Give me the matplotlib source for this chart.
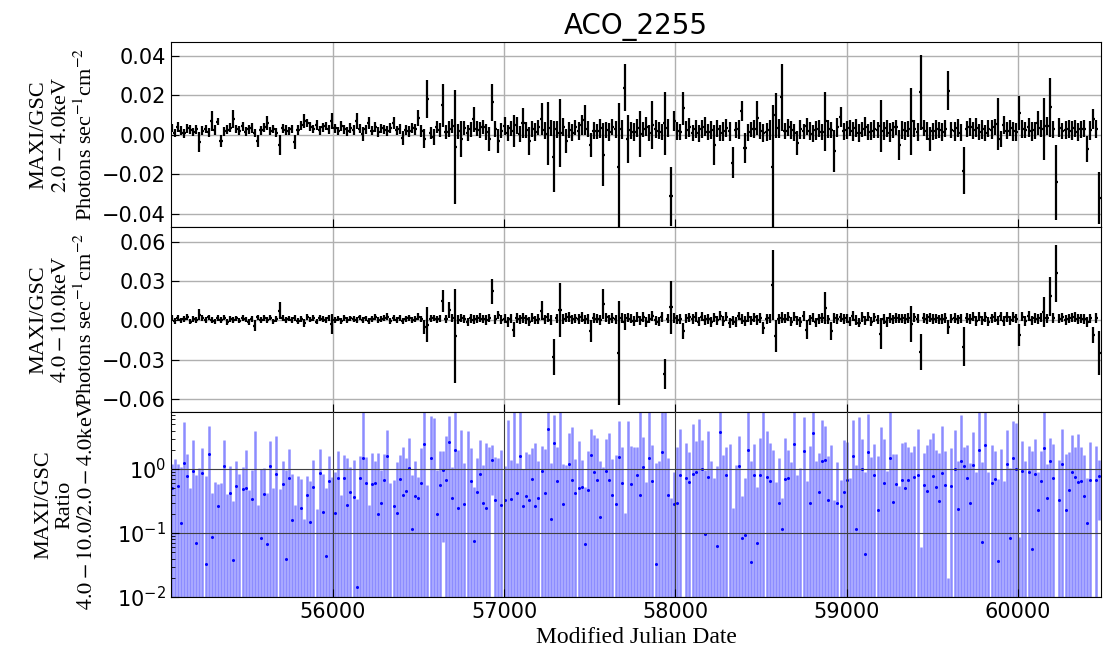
import matplotlib

matplotlib.use("Agg")

import matplotlib.pyplot as plt
import numpy as np
from matplotlib.ticker import LogLocator, MultipleLocator

# MAXI/GSC light curve of ACO_2255, 18-day bins, fluxes in 1e-3 photons/s/cm2
MJD_START = 55058.0
BIN_DAYS = 18.0

# 2.0-4.0 keV
flux_lo = [
    3.5, 1.2, 4.0, 2.1, 0.8, 3.3, 2.6, 1.5, 2.9, -3.4,
    2.2, 3.0, 1.4, 7.0, 2.5, 6.8, -3.0, 1.8, 2.7, 3.6,
    8.0, 3.1, 2.2, 4.3, 1.6, 2.8, 3.5, 1.1, -3.0, 2.4,
    3.9, 6.0, 2.0, 2.9, 1.2, -5.0, 3.3, 2.5, 1.9, 3.1,
    -3.5, 2.6, 4.8, 7.0, 6.0, 4.1, 3.0, 5.2, 2.4, 3.8,
    4.5, 2.9, 7.0, 3.4, 2.1, 4.6, 3.0, 1.8, 3.7, 2.5,
    7.0, 3.2, 0.4, 2.8, 6.0, 2.2, 3.9, 1.5, 3.4, 2.7,
    1.9, 3.6, 6.0, 2.4, 3.0, -1.5, 2.6, 1.8, 3.5, 2.9,
    8.5, 2.0, -2.0, 18.0, 1.0, -1.0, 4.0, 2.5, 15.0, 1.5,
    3.0, 4.5, -6.0, 2.0, -2.0, 3.5, 1.0, 2.8, 8.0, 3.2,
    2.4, 4.0, 1.6, -2.0, 16.5, 3.0, -3.0, 2.2, 4.5, 1.0,
    3.5, 2.0, 4.8, 0.5, 6.0, 2.6, -3.0, 3.2, 1.5, 4.0,
    8.0, 2.4, 0.6, 3.6, -11.0, 2.8, 1.0, 4.2, -3.0, 2.5,
    1.2, 3.8, 2.0, 5.0, 7.5, 3.0, -5.0, 2.2, 1.8, 3.4,
    -10.0, 2.6, 1.5, 4.0, 2.8, -16.0, 3.0, 24.0, -2.0, 2.4,
    1.6, 3.5, 0.5, 2.8, 4.2, 1.0, 5.0, 3.0, 2.2, 1.4,
    6.0, 3.6, -31.0, 7.0, 2.0, 1.5, 13.5, 2.5, 3.8, 1.2,
    2.9, 0.8, 3.0, 4.1, 1.6, 2.4, -5.0, 3.2, 1.0, 2.0,
    3.5, 1.8, -14.0, 2.6, 3.0, 12.0, -6.5, 1.4, 2.8, 3.0,
    8.5, 2.2, 1.0, 1.6, 2.5, -16.0, 10.0, 3.4, 19.0, 2.0,
    3.8, 2.5, 1.2, -4.0, 3.0, 1.8, 4.4, 2.0, 0.6, 2.4,
    3.2, 1.5, 7.0, 3.0, 2.6, -8.0, 4.0, 9.0, 1.8, 2.4,
    3.6, 2.0, 3.5, 1.0, 2.8, 4.2, 1.6, 2.2, 3.0, 2.6,
    4.6, 2.0, 3.4, 1.2, 2.6, 3.8, -5.0, 2.4, 2.0, 3.0,
    7.0, 3.2, 1.5, 21.6, 3.6, 2.2, -2.0, 1.8, 3.0, 2.5,
    1.4, 3.2, 22.5, 2.6, 2.0, 3.4, 1.2, -18.0, 3.0, 4.0,
    2.4, 3.6, 1.5, 2.8, 1.0, 3.2, 2.6, 4.0, 5.5, -2.0,
    5.0, 2.2, 3.6, 2.0, 1.4, 11.0, 3.0, 2.6, 3.8, 1.8,
    2.4, 6.0, 3.4, 3.0, 4.6, 14.0, 2.8, -24.0, 3.6, 2.0,
    2.6, 3.0, 2.2, 3.4, 1.6, 2.8, 3.2, -7.0, 2.4, 8.0,
    3.0, -32.0,
]
err_lo = [
    2.2, 2.0, 2.4, 2.2, 2.1, 2.5, 2.3, 2.0, 2.2, 5.0,
    2.3, 2.1, 2.2, 5.0, 2.4, 1.8, 3.0, 2.2, 2.1, 2.3,
    4.4, 2.2, 2.4, 2.1, 2.3, 2.2, 2.5, 2.0, 3.0, 2.2,
    2.3, 3.7, 2.2, 2.1, 2.4, 5.0, 2.2, 2.3, 2.0, 2.2,
    3.5, 2.4, 2.2, 3.7, 2.0, 2.3, 2.1, 2.5, 2.2, 2.4,
    2.2, 2.3, 4.0, 2.4, 2.1, 2.6, 2.3, 2.2, 2.5, 2.4,
    4.0, 2.3, 3.5, 2.4, 3.0, 2.2, 2.5, 2.3, 2.4, 2.2,
    2.4, 2.6, 3.0, 2.3, 2.5, 3.5, 2.4, 2.6, 2.7, 2.8,
    4.2, 3.0, 4.8, 9.6, 3.0, 4.0, 3.2, 3.5, 11.0, 3.6,
    4.0, 3.4, 29.0, 3.8, 9.0, 3.5, 4.0, 3.6, 6.4, 3.8,
    4.0, 3.6, 4.2, 6.0, 9.5, 4.0, 6.0, 3.8, 4.5, 4.2,
    3.8, 8.0, 4.4, 4.0, 7.7, 4.2, 7.0, 4.0, 4.6, 3.8,
    8.0, 4.4, 16.0, 4.0, 18.0, 4.2, 17.0, 4.5, 6.0, 4.0,
    4.4, 4.0, 4.6, 5.0, 7.5, 4.2, 6.0, 4.4, 4.0, 4.8,
    16.0, 4.2, 4.6, 4.0, 4.4, 32.0, 4.8, 12.0, 12.0, 4.2,
    4.6, 4.4, 11.5, 4.0, 4.8, 4.2, 12.0, 4.6, 4.4, 4.0,
    16.0, 4.4, 15.0, 5.0, 4.6, 4.2, 8.5, 4.4, 4.8, 4.0,
    4.6, 4.2, 4.4, 4.8, 4.0, 4.6, 10.0, 4.4, 4.2, 4.8,
    4.4, 4.6, 8.0, 4.2, 4.8, 5.0, 7.5, 4.4, 4.0, 4.6,
    8.5, 4.2, 4.6, 4.4, 5.0, 31.0, 11.5, 4.8, 17.0, 4.2,
    4.4, 4.6, 4.2, 6.0, 4.8, 4.0, 4.4, 4.6, 4.2, 4.8,
    4.4, 4.2, 15.0, 4.6, 4.0, 10.5, 4.8, 5.0, 4.4, 4.6,
    4.2, 4.8, 4.4, 4.6, 4.0, 4.8, 4.2, 4.6, 4.4, 4.2,
    13.0, 4.6, 4.4, 4.8, 4.2, 4.0, 7.5, 4.6, 4.4, 4.2,
    17.0, 4.4, 4.8, 19.0, 4.2, 4.6, 6.0, 4.4, 4.8, 4.2,
    4.6, 4.4, 9.7, 4.2, 4.8, 4.6, 4.4, 12.0, 4.2, 4.6,
    4.4, 4.8, 4.2, 4.6, 4.0, 4.4, 4.8, 4.2, 13.0, 4.0,
    4.6, 4.4, 4.2, 4.8, 4.6, 8.5, 4.4, 4.2, 4.6, 4.8,
    4.4, 6.0, 4.2, 15.5, 4.6, 15.0, 4.4, 19.0, 4.8, 4.2,
    4.6, 4.4, 4.8, 4.2, 4.6, 4.4, 4.2, 6.5, 4.8, 5.0,
    4.6, 13.0,
]

# 4.0-10.0 keV
flux_hi = [
    1.8, -0.4, 2.2, 0.3, 1.0, 2.6, -0.8, 1.4, 0.2, 4.5,
    1.9, 0.1, 2.4, 0.6, -0.5, 1.8, 0.4, 2.0, -1.2, 1.5,
    0.3, 1.7, -0.2, 2.1, 0.8, -1.0, 1.2, -4.0, 2.3, 0.2,
    1.6, 0.4, 2.2, -0.6, 1.0, 7.5, 1.9, 0.1, 1.4, 0.5,
    2.0, -0.3, 1.2, -2.0, 2.4, 0.6, 1.6, -0.9, 2.1, 0.8,
    0.2, 1.9, -2.5, 0.7, 1.5, -0.4, 2.2, 0.5, 1.6, 0.9,
    0.1, 2.3, 0.6, 1.7, -0.7, 1.3, 2.4, 0.3, 1.0, 1.8,
    3.0, -0.2, 1.6, 0.5, 2.1, -0.6, 1.2, 1.9, 0.4, 1.1,
    3.0, 1.2, -5.0, -3.3, 1.5, 2.0, 0.8, 1.4, 14.7, 1.0,
    8.0, 1.6, -12.0, 0.5, 2.2, 1.0, -1.0, 1.8, 0.6, 1.4,
    2.0, 1.2, 0.4, 1.8, 22.5, 1.0, 4.0, 0.6, 1.5, -1.5,
    1.2, -7.0, 2.0, 0.8, 1.6, 1.0, -1.0, 2.2, 0.4, 1.4,
    7.5, 1.0, 2.5, 0.6, -28.0, 1.8, 8.0, 1.2, 2.4, 3.0,
    0.8, 1.6, 1.0, 2.6, 0.5, 1.4, -8.3, 2.0, 1.2, 0.6,
    12.8, 2.4, 1.0, 1.6, 0.8, -25.0, 1.8, -1.0, 2.2, 1.4,
    -0.6, 2.8, 0.2, 3.0, -1.2, 1.5, 3.2, 0.1, -0.8, 2.6,
    -41.0, 1.4, 10.0, 2.0, 0.6, 1.2, -8.0, 1.8, 2.4, 1.0,
    2.6, -0.8, 3.0, 0.4, 1.2, -1.4, 2.4, 0.2, 3.8, -0.5,
    2.8, -2.0, 0.2, -1.4, 3.4, 1.0, -0.6, 2.8, 0.1, 2.4,
    0.6, 1.8, -6.0, 1.2, 1.6, 27.0, -12.0, 1.0, 2.2, 1.4,
    2.8, -0.8, 3.0, 0.2, -1.0, 3.4, -7.0, 0.6, 2.2, -1.4,
    1.4, 2.0, 9.6, 1.0, -8.0, 1.8, 1.2, 2.4, 0.8, 1.6,
    -1.0, 3.2, 0.4, -1.6, 2.8, 0.2, 3.0, -0.8, 2.4, 0.6,
    -10.0, 1.2, -1.0, 1.8, 0.8, 2.2, 1.4, 1.6, 1.0, 2.0,
    -2.6, 2.4, 1.2, -24.0, 2.0, 1.0, 2.6, 1.4, 1.6, 0.8,
    1.2, 1.8, -5.0, 1.4, 2.0, 0.8, 1.6, -20.0, 2.2, 1.2,
    2.8, -0.6, 3.0, 0.2, 2.4, -1.0, 1.6, 2.8, 0.2, 3.2,
    -0.6, 2.6, 0.3, 3.0, 1.4, -11.0, 2.8, -0.4, 3.4, 0.1,
    2.0, 1.4, 2.2, 6.5, 1.6, 18.6, 2.0, 36.0, 1.2, 2.4,
    0.6, 1.4, 2.0, 2.6, 1.0, 1.8, 1.2, -1.0, 1.6, -11.0,
    2.0, -25.0,
]
err_hi = [
    2.1, 2.0, 2.3, 1.9, 2.2, 2.4, 2.0, 2.2, 2.1, 4.5,
    2.0, 2.2, 2.1, 2.3, 2.0, 2.1, 2.2, 1.9, 2.1, 2.3,
    2.2, 2.1, 2.0, 2.3, 2.1, 2.2, 2.0, 4.0, 2.1, 2.2,
    2.3, 2.1, 2.2, 2.0, 2.1, 6.5, 2.2, 2.3, 2.0, 2.1,
    2.2, 2.3, 2.1, 3.0, 2.2, 2.0, 2.3, 2.1, 2.2, 2.3,
    2.1, 2.2, 7.7, 2.3, 2.1, 2.2, 2.3, 2.1, 2.2, 2.4,
    2.3, 2.2, 2.4, 2.1, 2.3, 2.2, 2.4, 2.3, 2.2, 2.5,
    3.0, 2.4, 2.3, 2.5, 2.2, 2.4, 2.5, 2.3, 2.4, 2.5,
    3.0, 2.4, 5.0, 13.5, 2.6, 2.5, 3.0, 2.8, 8.3, 3.2,
    6.0, 3.0, 36.0, 3.4, 3.0, 3.2, 3.0, 3.4, 3.6, 3.0,
    3.4, 3.2, 3.6, 3.0, 9.6, 3.4, 3.0, 3.6, 3.2, 3.8,
    3.4, 5.7, 3.6, 3.2, 3.8, 3.4, 3.5, 3.6, 3.2, 3.8,
    7.5, 3.4, 3.6, 3.8, 14.0, 3.4, 21.0, 3.6, 3.4, 3.8,
    3.6, 3.4, 3.8, 3.6, 3.4, 3.8, 8.3, 3.6, 3.4, 3.8,
    11.5, 3.6, 3.4, 3.8, 3.6, 40.0, 3.8, 6.0, 3.6, 3.4,
    3.8, 3.6, 3.4, 3.8, 3.6, 3.4, 3.8, 3.6, 3.4, 3.8,
    11.5, 3.6, 20.5, 4.0, 3.6, 3.8, 6.0, 3.4, 3.6, 3.8,
    3.6, 3.8, 3.4, 3.6, 4.0, 3.8, 3.6, 3.4, 3.8, 3.6,
    3.4, 4.0, 3.6, 3.8, 3.4, 3.6, 4.0, 3.8, 3.6, 3.4,
    3.8, 3.6, 4.5, 3.8, 3.6, 27.0, 12.0, 3.8, 4.0, 3.6,
    3.4, 3.8, 3.6, 3.4, 3.8, 3.6, 7.0, 3.8, 3.4, 3.6,
    3.8, 3.6, 12.0, 3.4, 7.0, 3.8, 3.6, 3.4, 3.8, 3.6,
    3.4, 3.8, 3.6, 3.4, 3.8, 3.6, 3.4, 3.8, 3.6, 3.4,
    12.0, 3.8, 4.0, 3.6, 3.4, 3.8, 3.6, 3.4, 3.8, 3.6,
    14.0, 3.6, 3.4, 14.0, 3.8, 3.6, 3.4, 3.8, 3.6, 3.4,
    3.8, 3.6, 5.0, 3.4, 3.8, 3.6, 3.4, 15.0, 3.8, 3.6,
    3.4, 3.8, 3.6, 3.4, 3.8, 3.6, 3.4, 3.8, 3.6, 3.4,
    3.8, 3.6, 3.4, 3.8, 3.6, 8.4, 3.4, 3.8, 3.6, 3.4,
    3.6, 3.8, 3.4, 11.5, 3.6, 14.8, 3.8, 22.0, 3.4, 3.6,
    3.8, 3.6, 3.4, 3.8, 3.6, 3.4, 3.8, 4.0, 3.6, 6.0,
    3.8, 17.0,
]

f1 = np.array(flux_lo) * 1e-3
e1 = np.array(err_lo) * 1e-3
f2 = np.array(flux_hi) * 1e-3
e2 = np.array(err_hi) * 1e-3
mjd = MJD_START + BIN_DAYS * np.arange(len(f1))

# hardness ratio with propagated errors
ratio = f2 / f1
ratio_err = np.abs(ratio) * np.sqrt((e1 / f1) ** 2 + (e2 / f2) ** 2)

fig, (ax1, ax2, ax3) = plt.subplots(3, 1, sharex=True, figsize=(11.13, 6.63), dpi=100)
fig.subplots_adjust(left=0.1536, right=0.9892, top=0.9367, bottom=0.0995, hspace=0)

label_kw = dict(fontsize=16, family="Liberation Serif", math_fontfamily="stix")

for ax, f, e in ((ax1, f1, e1), (ax2, f2, e2)):
    ax.errorbar(mjd, f, yerr=e, xerr=BIN_DAYS / 2, fmt="none", ecolor="black",
                elinewidth=1.6, capsize=0)
    ax.grid(True, color="#b0b0b0", linewidth=1.0)

ax3.errorbar(mjd, ratio, yerr=ratio_err, fmt="o", color="blue", markersize=1.2,
             ecolor=(0.0, 0.0, 1.0, 0.45), elinewidth=1.8, capsize=0)
ax3.set_yscale("log")
ax3.set_ylim(0.01, 7.8)
ax3.yaxis.set_major_locator(LogLocator(base=10, numticks=10))
ax3.grid(True, which="major", color="#404040", linewidth=0.8)
ax3.set_axisbelow(False)

ax1.set_ylim(-0.0466, 0.0471)
ax1.yaxis.set_major_locator(MultipleLocator(0.02))
ax2.set_ylim(-0.070, 0.0715)
ax2.yaxis.set_major_locator(MultipleLocator(0.03))
ax1.set_xlim(55054, 60485)

for ax in (ax1, ax2, ax3):
    ax.tick_params(axis="both", which="major", direction="in", length=6, labelsize=15)
    ax.tick_params(axis="both", which="minor", direction="in", length=3)

ax1.set_title("ACO_2255", fontsize=20)
ax1.set_ylabel("MAXI/GSC\n$2.0-4.0$keV\nPhotons sec$^{-1}$cm$^{-2}$", **label_kw)
ax2.set_ylabel("MAXI/GSC\n$4.0-10.0$keV\nPhotons sec$^{-1}$cm$^{-2}$", **label_kw)
ax3.set_ylabel("MAXI/GSC\nRatio\n$4.0-10.0/2.0-4.0$keV", **label_kw)
ax3.set_xlabel("Modified Julian Date", fontsize=17, family="Liberation Serif")
fig.align_ylabels((ax1, ax2, ax3))

fig.savefig("out.png", dpi=100)
